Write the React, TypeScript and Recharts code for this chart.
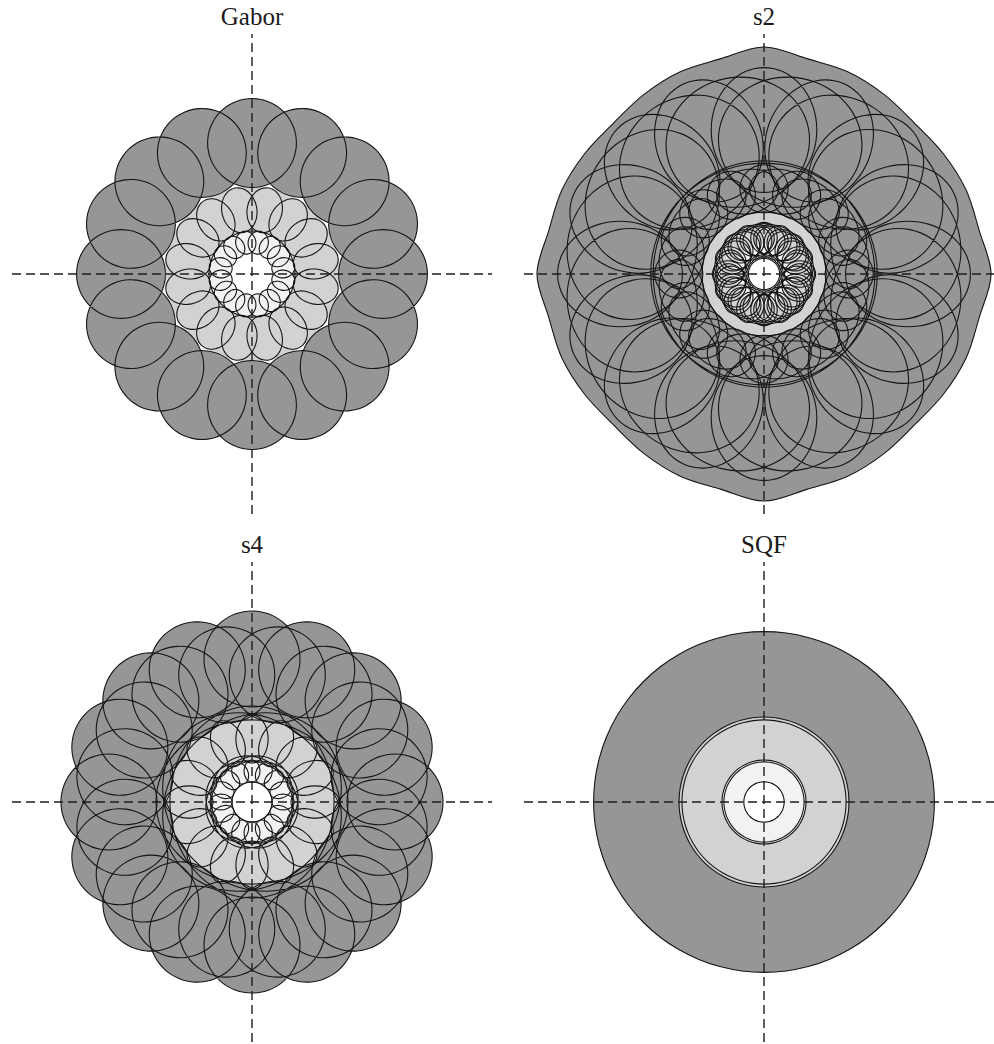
import React, { useMemo } from 'react';
import { ScatterChart, Scatter, XAxis, YAxis, ReferenceLine } from 'recharts';

// ---- palette -------------------------------------------------------------
const DARK = '#959695';
const LIGHT = '#d1d2d1';
const PALE = '#f2f2f2';
const WHITE = '#ffffff';
const INK = '#151515';
const AXIS = '#1e1e1e';

// All values are in normalized frequency units; each panel spans -1..1 on both axes.
// A lobe ring: `count` ellipses spread over `span` degrees starting at `phase`,
// centred `dist` from the origin, with radial / tangential half-widths.
type Lobe = {
  count: number;
  phase: number;
  dist: number;
  radial: number;
  tangential: number;
  span?: number;
};

// ---- Gabor bank: three scales, 16 half-amplitude lobes each ----------------
const gaborOuter: Lobe = { count: 16, phase: 0, dist: 0.546, radial: 0.185, tangential: 0.185 };
const gaborMiddle: Lobe = { count: 16, phase: 11.25, dist: 0.271, radial: 0.094, tangential: 0.073 };
const gaborInner: Lobe = { count: 16, phase: 11.25, dist: 0.133, radial: 0.048, tangential: 0.042 };
const gaborBands = [0.365, 0.179, 0.085]; // middle band, inner band, centre hole

// ---- s2 bank ------------------------------------------------------------
// outer envelope radius at 0, 11.25, 22.5, 33.75, 45 degrees (mirrored per octant)
const s2Envelope = [0.946, 0.915, 0.912, 0.9, 0.888];
const s2Outer: Lobe[] = [
  { count: 16, phase: 0, dist: 0.6, radial: 0.26, tangential: 0.22 },
  { count: 16, phase: 11.25, dist: 0.56, radial: 0.27, tangential: 0.3 },
];
const s2Rim: Lobe = { count: 2, span: 180, phase: 0, dist: 0, radial: 0.472, tangential: 0.462 };
const s2Middle: Lobe[] = [
  { count: 16, phase: 0, dist: 0.355, radial: 0.1, tangential: 0.1 },
  { count: 16, phase: 11.25, dist: 0.35, radial: 0.092, tangential: 0.13 },
];
const s2Inner: Lobe[] = [
  { count: 16, phase: 0, dist: 0.15, radial: 0.065, tangential: 0.055 },
  { count: 16, phase: 11.25, dist: 0.14, radial: 0.06, tangential: 0.06 },
  { count: 16, phase: 0, dist: 0.14, radial: 0.07, tangential: 0.1 },
];
const s2Bands = [0.258, 0.125, 0.065];

// ---- s4 bank ------------------------------------------------------------
const s4Outer: Lobe[] = [
  { count: 16, phase: 0, dist: 0.596, radial: 0.2, tangential: 0.2 },
  { count: 16, phase: 11.25, dist: 0.54, radial: 0.2, tangential: 0.2 },
];
const s4OuterRim: Lobe = { count: 4, span: 180, phase: 0, dist: 0, radial: 0.4, tangential: 0.342 };
const s4Middle: Lobe = { count: 16, phase: 0, dist: 0.2625, radial: 0.1, tangential: 0.067 };
const s4InnerRim: Lobe = { count: 4, span: 180, phase: 22.5, dist: 0, radial: 0.196, tangential: 0.167 };
const s4Inner: Lobe = { count: 16, phase: 0, dist: 0.129, radial: 0.046, tangential: 0.033 };
const s4Bands = [0.6, 0.342, 0.171, 0.083];

// ---- SQF bank: isotropic rings ------------------------------------------
const sqfRadii = [0.71, 0.354, 0.342, 0.175, 0.167, 0.084];

// ---- layer model ----------------------------------------------------------
type Layer = {
  lobes?: Lobe;
  disc?: number;
  envelope?: number[];
  fill?: string;
  stroke?: boolean;
};

type Pt = { x: number; y: number };
const TAU = Math.PI * 2;

function ellipse(cx: number, cy: number, a: number, b: number, rot: number, n: number): Pt[] {
  const c = Math.cos(rot);
  const s = Math.sin(rot);
  const pts: Pt[] = [];
  for (let i = 0; i < n; i++) {
    const t = (i / n) * TAU;
    const u = a * Math.cos(t);
    const v = b * Math.sin(t);
    pts.push({ x: cx + u * c - v * s, y: cy + u * s + v * c });
  }
  return pts;
}

function shapesOf(layer: Layer): Pt[][] {
  if (layer.disc !== undefined) return [ellipse(0, 0, layer.disc, layer.disc, 0, 48)];
  if (layer.envelope) {
    const r = layer.envelope;
    const pts: Pt[] = [];
    for (let i = 0; i < 32; i++) {
      const j = i % 8;
      const rad = j <= 4 ? r[j] : r[8 - j];
      const th = (i * 11.25 * Math.PI) / 180;
      pts.push({ x: rad * Math.cos(th), y: rad * Math.sin(th) });
    }
    return [pts];
  }
  const L = layer.lobes as Lobe;
  const span = L.span ?? 360;
  const out: Pt[][] = [];
  for (let k = 0; k < L.count; k++) {
    const th = ((L.phase + (k * span) / L.count) * Math.PI) / 180;
    out.push(ellipse(L.dist * Math.cos(th), L.dist * Math.sin(th), L.radial, L.tangential, th, 36));
  }
  return out;
}

function closedPath(p: Pt[]): string {
  const n = p.length;
  const f = (v: number) => v.toFixed(2);
  let d = `M${f(p[0].x)},${f(p[0].y)}`;
  for (let i = 0; i < n; i++) {
    const p0 = p[(i - 1 + n) % n];
    const p1 = p[i];
    const p2 = p[(i + 1) % n];
    const p3 = p[(i + 2) % n];
    const c1x = p1.x + (p2.x - p0.x) / 6;
    const c1y = p1.y + (p2.y - p0.y) / 6;
    const c2x = p2.x - (p3.x - p1.x) / 6;
    const c2y = p2.y - (p3.y - p1.y) / 6;
    d += `C${f(c1x)},${f(c1y)} ${f(c2x)},${f(c2y)} ${f(p2.x)},${f(p2.y)}`;
  }
  return d + 'Z';
}

type Group = { layer: number; start: number; len: number };

function buildRows(layers: Layer[]) {
  const rows: Pt[] = [];
  const groups: Group[] = [];
  layers.forEach((layer, li) => {
    shapesOf(layer).forEach((pts) => {
      groups.push({ layer: li, start: rows.length, len: pts.length });
      pts.forEach((p) => rows.push(p));
    });
  });
  return { rows, groups };
}

const Blank = () => <g />;

type PanelProps = { title: string; layers: Layer[]; left: number; top: number };

function TilingPanel({ title, layers, left, top }: PanelProps) {
  const { rows, groups } = useMemo(() => buildRows(layers), [layers]);

  // Draws every filled region first, then every outline on top of them.
  const renderTiling = (props: any) => {
    const pts: Pt[] = props.points || [];
    const pathFor = (li: number) =>
      groups
        .filter((g) => g.layer === li)
        .map((g) => closedPath(pts.slice(g.start, g.start + g.len)))
        .join(' ');
    return (
      <g>
        {layers.map((layer, li) =>
          layer.fill ? <path key={`f${li}`} d={pathFor(li)} fill={layer.fill} stroke="none" /> : null
        )}
        {layers.map((layer, li) =>
          layer.stroke ? (
            <path key={`s${li}`} d={pathFor(li)} fill="none" stroke={INK} strokeWidth={1.1} />
          ) : null
        )}
      </g>
    );
  };

  return (
    <>
      <div
        style={{
          position: 'absolute',
          left: left + 140,
          top: top - 29,
          width: 200,
          textAlign: 'center',
          fontFamily: '"Liberation Serif", "Times New Roman", serif',
          fontSize: 25,
          lineHeight: '24px',
          color: '#1a1a1a',
        }}
      >
        {title}
      </div>
      <div style={{ position: 'absolute', left, top }}>
        <ScatterChart width={480} height={480} margin={{ top: 0, right: 0, bottom: 0, left: 0 }}>
          <XAxis type="number" dataKey="x" domain={[-1, 1]} hide />
          <YAxis type="number" dataKey="y" domain={[-1, 1]} hide />
          <Scatter data={rows} line={renderTiling} shape={Blank} isAnimationActive={false} />
          <ReferenceLine x={0} stroke={AXIS} strokeDasharray="9 5" strokeWidth={1.4} zIndex={1000} />
          <ReferenceLine y={0} stroke={AXIS} strokeDasharray="9 5" strokeWidth={1.4} zIndex={1000} />
        </ScatterChart>
      </div>
    </>
  );
}

const gaborLayers: Layer[] = [
  { lobes: gaborOuter, fill: DARK, stroke: true },
  { disc: gaborBands[0], fill: LIGHT },
  { lobes: gaborMiddle, fill: LIGHT, stroke: true },
  { disc: gaborBands[1], fill: PALE, stroke: true },
  { disc: gaborBands[2], fill: WHITE },
  { lobes: gaborInner, fill: PALE, stroke: true },
];

const s2Layers: Layer[] = [
  { envelope: s2Envelope, fill: DARK, stroke: true },
  { disc: s2Bands[0], fill: LIGHT, stroke: true },
  { disc: s2Bands[1], fill: PALE },
  { disc: s2Bands[2], fill: WHITE, stroke: true },
  ...s2Outer.map((l) => ({ lobes: l, stroke: true })),
  { lobes: s2Rim, stroke: true },
  ...s2Middle.map((l) => ({ lobes: l, stroke: true })),
  ...s2Inner.map((l) => ({ lobes: l, stroke: true })),
];

const s4Layers: Layer[] = [
  ...s4Outer.map((l) => ({ lobes: l, fill: DARK, stroke: true })),
  { disc: s4Bands[0], fill: DARK },
  { lobes: s4OuterRim, stroke: true },
  { disc: s4Bands[1], fill: LIGHT },
  { lobes: s4Middle, fill: LIGHT, stroke: true },
  { lobes: s4InnerRim, stroke: true },
  { disc: s4Bands[2], fill: PALE },
  { disc: s4Bands[3], fill: WHITE, stroke: true },
  { lobes: s4Inner, fill: PALE, stroke: true },
];

const sqfLayers: Layer[] = [
  { disc: sqfRadii[0], fill: DARK, stroke: true },
  { disc: sqfRadii[1], fill: LIGHT, stroke: true },
  { disc: sqfRadii[2], stroke: true },
  { disc: sqfRadii[3], fill: PALE, stroke: true },
  { disc: sqfRadii[4], stroke: true },
  { disc: sqfRadii[5], fill: WHITE, stroke: true },
];

export default function App() {
  return (
    <div
      style={{
        position: 'absolute',
        left: 0,
        top: 0,
        width: 994,
        height: 1044,
        overflow: 'hidden',
        background: '#ffffff',
      }}
    >
      <TilingPanel title="Gabor" layers={gaborLayers} left={12} top={34} />
      <TilingPanel title="s2" layers={s2Layers} left={524} top={34} />
      <TilingPanel title="s4" layers={s4Layers} left={12} top={562} />
      <TilingPanel title="SQF" layers={sqfLayers} left={524} top={562} />
    </div>
  );
}
